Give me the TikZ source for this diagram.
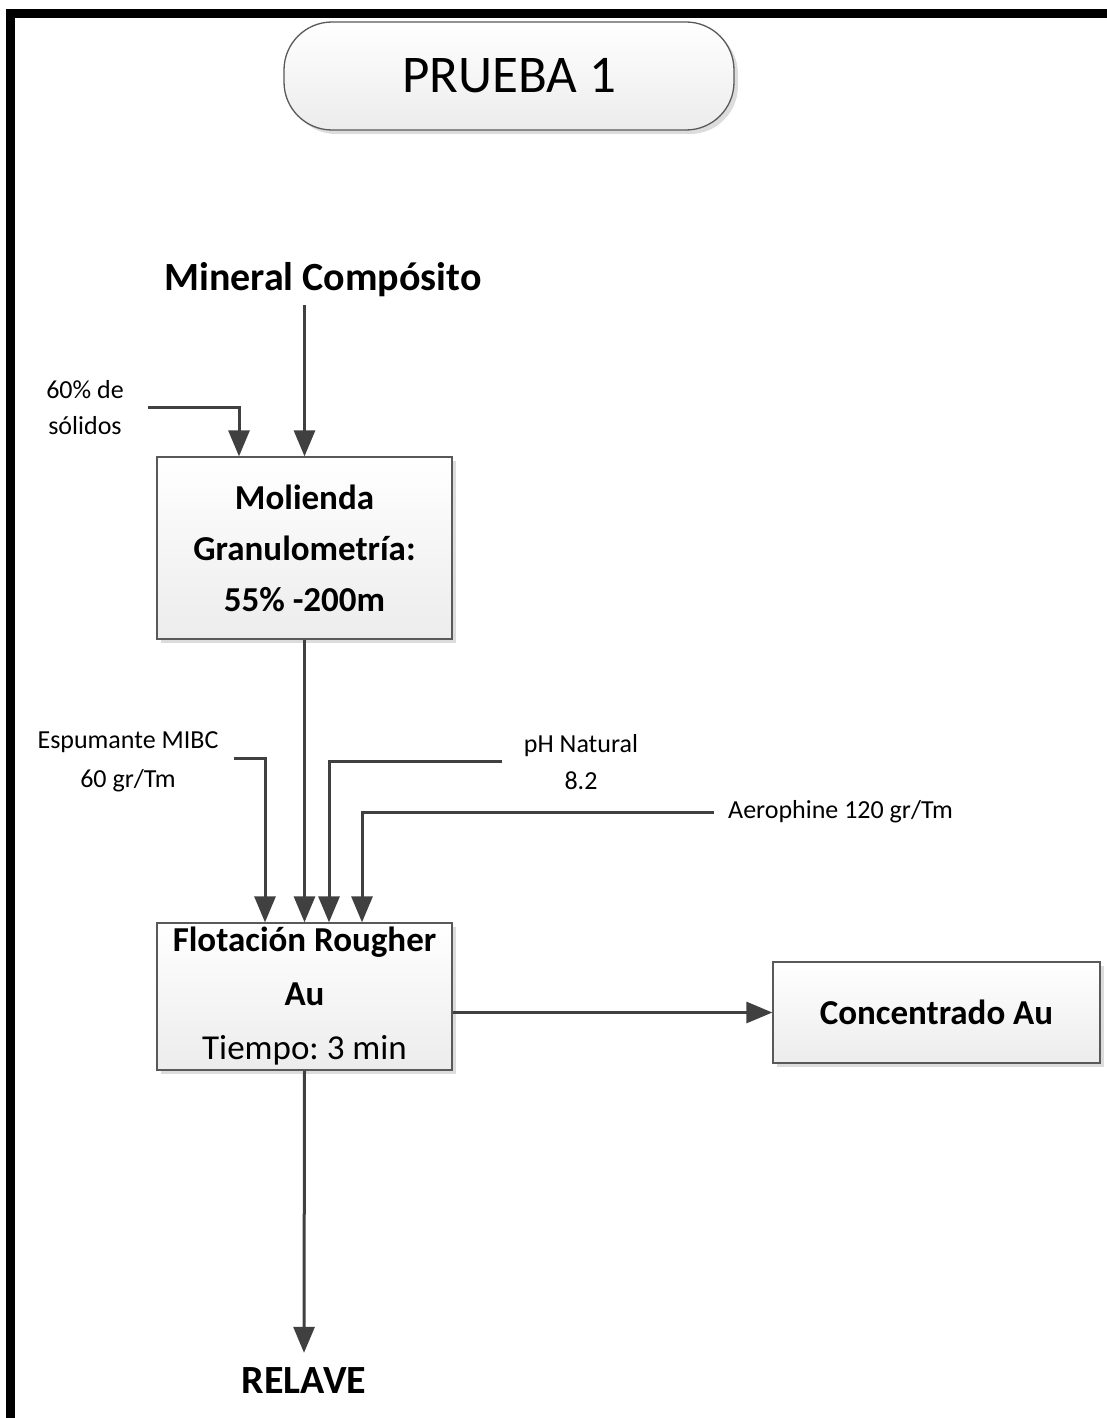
\documentclass[tikz,border=0pt]{standalone}
\usepackage{fontspec}
\setmainfont{Carlito}
\usetikzlibrary{arrows.meta,shadows}
\definecolor{linegray}{HTML}{404040}
\definecolor{boxborder}{HTML}{595959}
\definecolor{boxbottom}{HTML}{ECECEC}
\definecolor{shadowgray}{HTML}{DCDCDC}
\frenchspacing
\begin{document}
\begin{tikzpicture}[x=1pt,y=-1pt,
  procbox/.style={draw=boxborder, line width=1.3pt, top color=white, bottom color=boxbottom,
    inner sep=0pt, align=center,
    drop shadow={shadow xshift=4pt, shadow yshift=-4pt, fill=shadowgray, opacity=1}},
  flow/.style={draw=linegray, line width=3pt, -{Triangle[length=26pt,width=21pt]}},
  lbl/.style={inner sep=0pt, align=center, font=\fontsize{26}{36}\selectfont},
  bigbold/.style={inner sep=0pt, font=\fontsize{40}{48}\selectfont\bfseries}
]
\useasboundingbox (0,0) rectangle (1107,1418);
% frame
\fill[black] (6,9) rectangle (1107,18);
\fill[black] (6,9) rectangle (15,1418);

% title
\node[procbox, rounded corners=48pt, minimum width=450pt, minimum height=108pt,
  font=\fontsize{53}{60}\selectfont] (title) at (509,76) {PRUEBA 1};

% main nodes
\node[bigbold, anchor=base] (mineral) at (323,290) {Mineral Compósito};
\node[procbox, minimum width=295pt, minimum height=182pt,
  font=\fontsize{35}{51}\selectfont\bfseries] (mol) at (304.5,548)
  {Molienda\\Granulometría:\\55\% -200m};
\node[procbox, minimum width=295pt, minimum height=147pt,
  font=\fontsize{35}{54}\selectfont] (flot) at (304.5,996.5)
  {\textbf{Flotación Rougher}\\\textbf{Au}\\Tiempo: 3 min};
\node[procbox, minimum width=327pt, minimum height=101pt,
  font=\fontsize{35}{42}\selectfont\bfseries] (conc) at (936.5,1012.5) {Concentrado Au};
\node[bigbold, inner sep=15pt] (relave) at (304,1381) {RELAVE};

% labels
\node[lbl] (sol) at (85,408) {60\% de\\sólidos};
\node[lbl, font=\fontsize{26}{39}\selectfont] (esp) at (128,762) {Espumante MIBC\\60 gr/Tm};
\node[lbl, font=\fontsize{26}{37}\selectfont] (ph) at (581,762) {pH Natural\\8.2};
\node[lbl, anchor=west] (aero) at (728,812) {Aerophine 120 gr/Tm};

% connector ends
\coordinate (solE) at (148,407);
\coordinate (solX) at (239,407);
\coordinate (espE) at (234,758);
\coordinate (espX) at (265,758);
\coordinate (phE) at (502,761);
\coordinate (phX) at (329,761);
\coordinate (aeE) at (714,812);
\coordinate (aeX) at (362,812);

% connectors
\draw[flow] (mineral.south -| mol.north) ++(0,9) -- (mol.north);
\draw[flow] (solE) -| (solX |- mol.north);
\draw[flow] (mol.south) -- (flot.north);
\draw[flow] (espE) -| (espX |- flot.north);
\draw[flow] (phE) -| (phX |- flot.north);
\draw[flow] (aeE) -| (aeX |- flot.north);
\draw[flow] (flot.east |- conc.west) -- (conc.west);
\draw[flow] (flot.south) -- (relave.north);
\end{tikzpicture}
\end{document}
